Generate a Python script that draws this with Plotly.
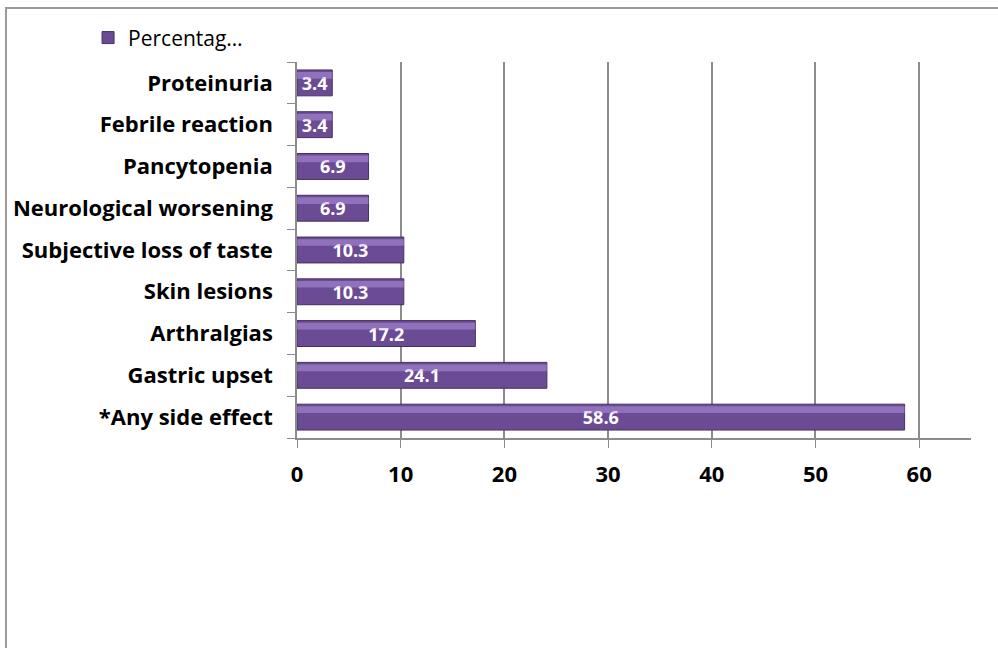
import plotly.graph_objects as go

# Reported side effects (percentage of patients)
categories = [
    "*Any side effect",
    "Gastric upset",
    "Arthralgias",
    "Skin lesions",
    "Subjective loss of taste",
    "Neurological worsening",
    "Pancytopenia",
    "Febrile reaction",
    "Proteinuria",
]
percentages = [58.6, 24.1, 17.2, 10.3, 10.3, 6.9, 6.9, 3.4, 3.4]
x_ticks = [0, 10, 20, 30, 40, 50, 60]

FONT = "Open Sans"
BAR = "#6b4b94"
BAR_EDGE = "#46305f"
HILITE = "rgba(190,160,235,0.45)"

fig = go.Figure()

# Main bars
fig.add_trace(go.Bar(
    y=categories,
    x=percentages,
    orientation="h",
    name="Percentag…",
    marker=dict(color=BAR, line=dict(color=BAR_EDGE, width=1)),
    width=0.62,
    text=[f"{v:.1f}" for v in percentages],
    textposition="inside",
    insidetextanchor="middle",
    constraintext="none",
    textfont=dict(family=FONT, size=18, color="white", weight="bold"),
    cliponaxis=False,
))

# Soft highlight along the upper part of each bar
fig.add_trace(go.Bar(
    y=categories,
    x=percentages,
    orientation="h",
    marker=dict(color=HILITE, line=dict(width=0)),
    width=0.16,
    offset=0.1,
    showlegend=False,
    hoverinfo="skip",
))

fig.update_layout(
    width=998,
    height=648,
    barmode="overlay",
    paper_bgcolor="white",
    plot_bgcolor="white",
    margin=dict(l=297, r=27, t=62, b=210),
    font=dict(family=FONT, color="black"),
    showlegend=True,
    legend=dict(
        x=-0.31, y=1.064, xanchor="left", yanchor="middle",
        font=dict(family=FONT, size=21, color="black"),
        itemwidth=30,
        traceorder="normal",
        bgcolor="rgba(0,0,0,0)",
    ),
    xaxis=dict(
        range=[0, 65],
        tickvals=x_ticks,
        ticktext=[str(t) for t in x_ticks],
        showgrid=True,
        gridcolor="#8c8c8c",
        gridwidth=1.5,
        zeroline=False,
        showline=True,
        linecolor="#8c8c8c",
        linewidth=1.5,
        ticks="outside",
        ticklen=8,
        tickcolor="#8c8c8c",
        ticklabelstandoff=8,
        tickfont=dict(family=FONT, size=22, color="black", weight="bold"),
        fixedrange=True,
    ),
    yaxis=dict(
        categoryorder="array",
        categoryarray=categories,
        showgrid=False,
        showline=True,
        linecolor="#8c8c8c",
        linewidth=1.5,
        ticks="outside",
        ticklen=8,
        tickcolor="#8c8c8c",
        tickson="boundaries",
        ticklabelstandoff=18,
        tickfont=dict(family=FONT, size=22, color="black", weight="bold"),
        fixedrange=True,
    ),
    shapes=[
        dict(
            type="rect", xref="paper", yref="paper",
            x0=-0.4318, x1=1.1, y0=-0.6, y1=1.1436,
            line=dict(color="#9a9a9a", width=2),
            fillcolor="rgba(0,0,0,0)",
            layer="below",
        )
    ],
)

fig.write_html("out.html")
